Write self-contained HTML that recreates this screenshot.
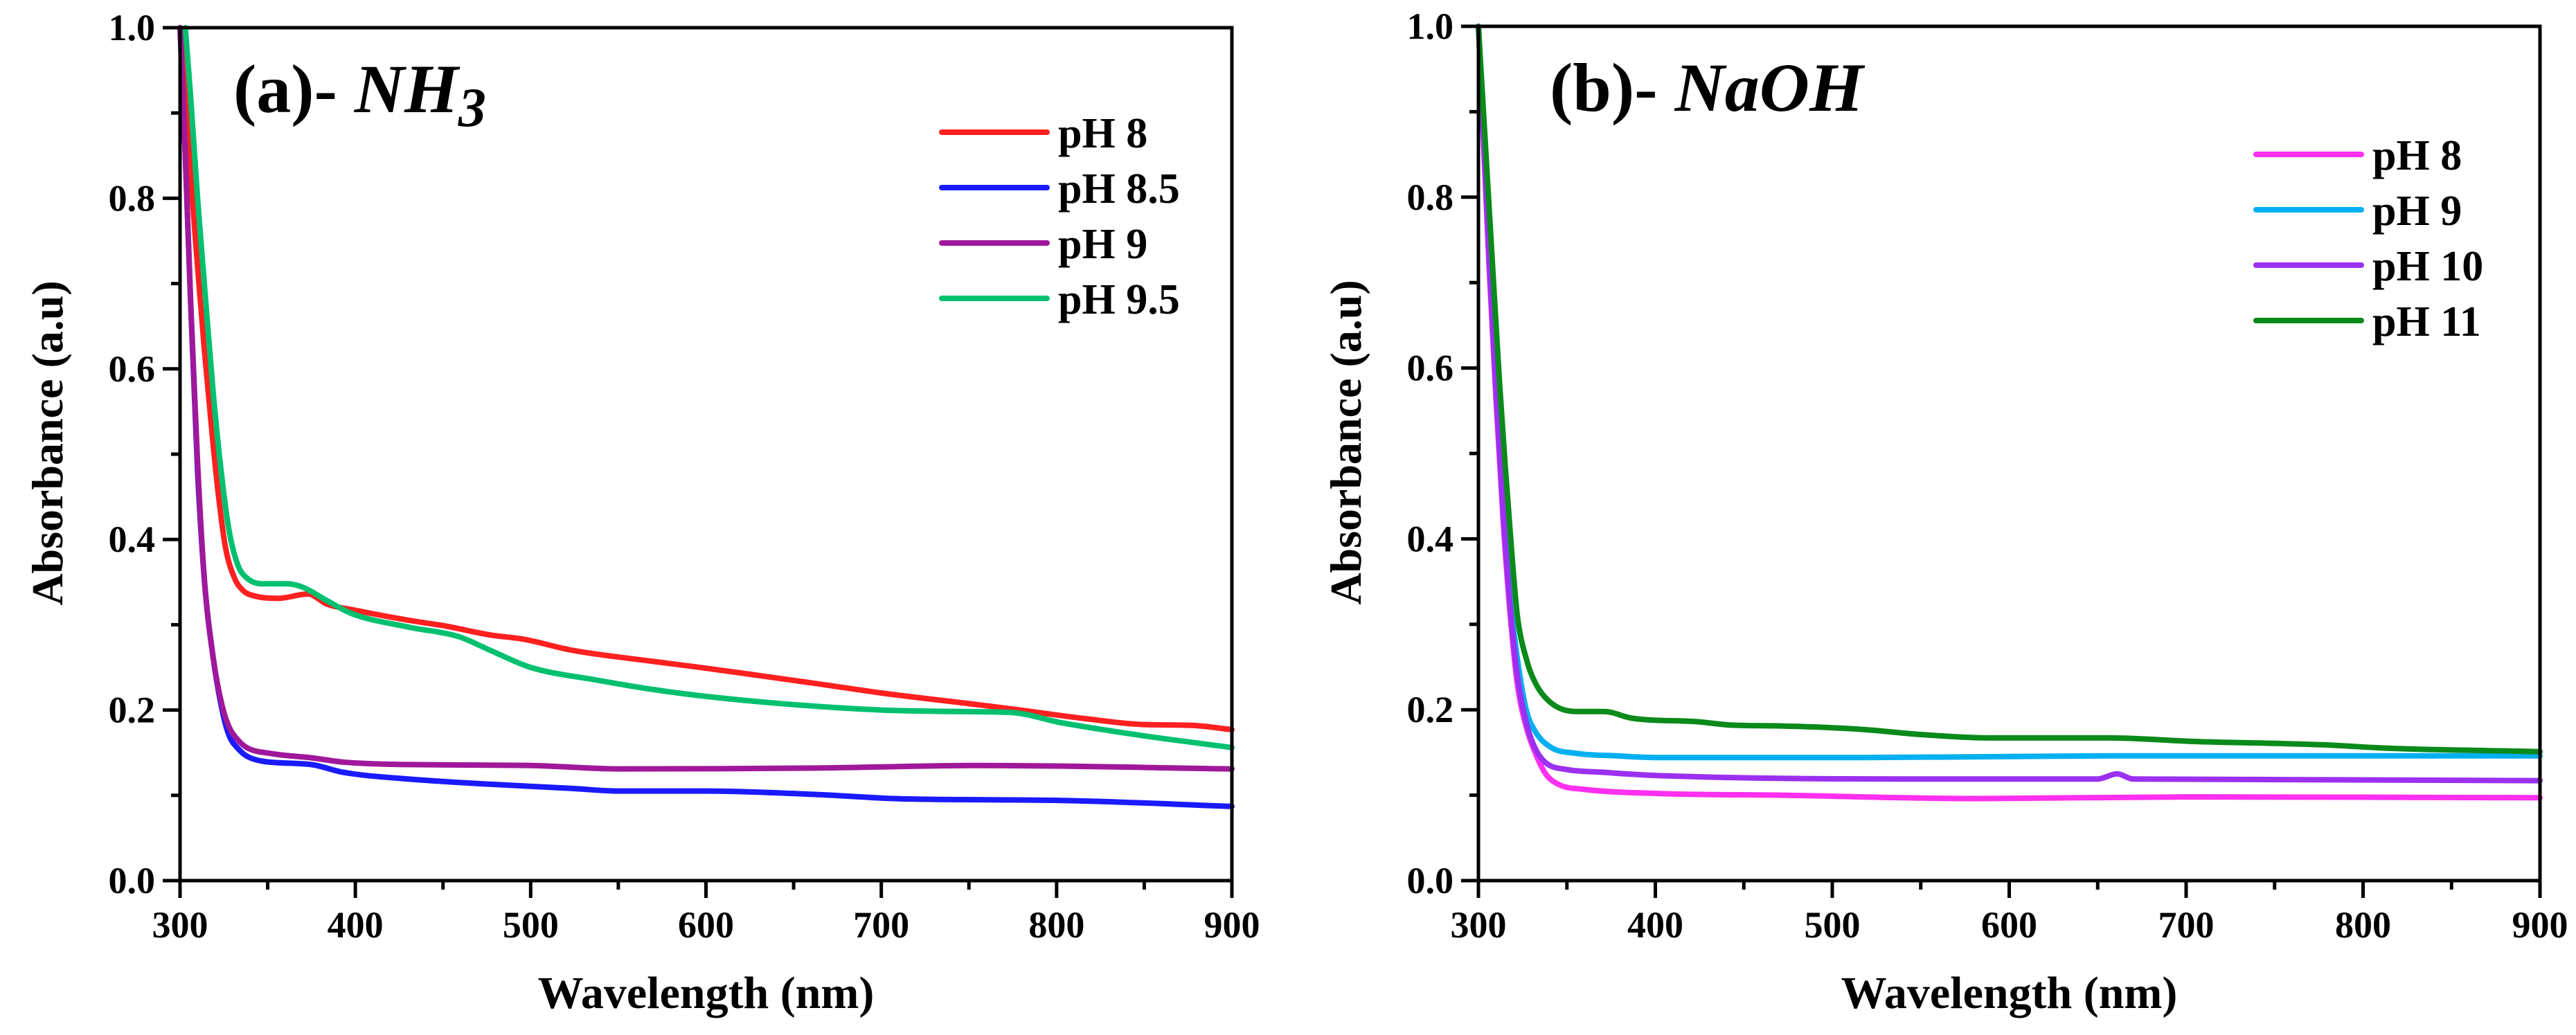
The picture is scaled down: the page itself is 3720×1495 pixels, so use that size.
<!DOCTYPE html>
<html><head><meta charset="utf-8"><style>
html,body{margin:0;padding:0;background:#fff}
svg{display:block}
text{font-family:"Liberation Serif","Times New Roman","Nimbus Roman","FreeSerif","DejaVu Serif",serif;font-weight:bold;fill:#000}
</style></head><body>
<svg id="chart" width="3720" height="1495" viewBox="0 0 3720 1495" xmlns="http://www.w3.org/2000/svg"></svg>
<script>
// ---- Panel (a) data: NH3 ----
const aWl8 = [300,303,307,310,314,318,322,326,331,336,342,356,373,384,400,431,450,477,496,524,570,600,663,700,756,779,816,849,877,900];
const aAbs8 = [1.0,0.92,0.8,0.72,0.62,0.53,0.45,0.39,0.355,0.34,0.334,0.331,0.336,0.324,0.317,0.305,0.299,0.288,0.283,0.27,0.257,0.249,0.231,0.22,0.206,0.2,0.19,0.183,0.182,0.177];
const aWl85 = [300,303,306,310,314,319,324,328,333,338,347,375,393,431,477,524,550,600,663,710,803,900];
const aAbs85 = [1.0,0.85,0.68,0.48,0.35,0.26,0.2,0.17,0.155,0.146,0.14,0.136,0.127,0.119,0.113,0.108,0.105,0.105,0.101,0.096,0.094,0.087];
const aWl9 = [300,303,306,310,314,319,324,328,333,338,352,375,393,431,500,550,663,756,900];
const aAbs9 = [1.0,0.85,0.68,0.49,0.35,0.26,0.205,0.18,0.165,0.156,0.149,0.144,0.139,0.136,0.135,0.131,0.132,0.135,0.131];
const aWl95 = [303,306,310,315,319,324,328,333,338,347,361,370,384,398,431,459,477,500,538,570,600,640,700,756,775,803,849,900];
const aAbs95 = [1.0,0.92,0.8,0.67,0.57,0.47,0.41,0.37,0.355,0.348,0.348,0.344,0.328,0.313,0.297,0.286,0.27,0.25,0.235,0.224,0.216,0.208,0.2,0.198,0.197,0.185,0.17,0.156];
// ---- Panel (b) data: NaOH ----
const bWl8 = [300,303,306,310,314,318,322,327,332,338,346,359,401,471,582,700,900];
const bAbs8 = [1.0,0.86,0.72,0.56,0.42,0.31,0.23,0.18,0.15,0.125,0.112,0.107,0.102,0.1,0.096,0.098,0.097];
const bWl9 = [300,303,306,310,314,318,322,327,332,341,355,378,401,517,657,900];
const bAbs9 = [1.0,0.87,0.74,0.58,0.44,0.33,0.26,0.2,0.175,0.156,0.149,0.146,0.144,0.144,0.146,0.146];
const bWl10 = [300,303,306,310,314,318,322,327,332,338,350,369,401,564,650,661,670,900];
const bAbs10 = [1.0,0.86,0.73,0.57,0.43,0.32,0.24,0.185,0.155,0.138,0.13,0.127,0.123,0.119,0.119,0.125,0.119,0.117];
const bWl11 = [300,304,308,312,315,319,322,327,332,341,355,371,387,424,443,471,517,550,592,657,703,777,814,900];
const bAbs11 = [1.0,0.86,0.72,0.58,0.49,0.38,0.31,0.26,0.232,0.208,0.198,0.198,0.19,0.186,0.182,0.181,0.177,0.171,0.167,0.167,0.163,0.159,0.155,0.151];
const xTicks = [300,400,500,600,700,800,900];
const yTicks = [0.0,0.2,0.4,0.6,0.8,1.0];
const legendA = ["pH 8","pH 8.5","pH 9","pH 9.5"];
const legendB = ["pH 8","pH 9","pH 10","pH 11"];

const NS="http://www.w3.org/2000/svg";
const FONT="'Liberation Serif','Times New Roman','Nimbus Roman','FreeSerif','DejaVu Serif',serif";
const svg=document.getElementById('chart');
function el(tag,attrs,parent){const e=document.createElementNS(NS,tag);for(const k in attrs)e.setAttribute(k,attrs[k]);(parent||svg).appendChild(e);return e;}

function smoothPath(px,py){
  const n=px.length;const d=[],m=new Array(n);
  for(let i=0;i<n-1;i++)d.push((py[i+1]-py[i])/(px[i+1]-px[i]));
  m[0]=d[0];m[n-1]=d[n-2];
  for(let i=1;i<n-1;i++){m[i]=(d[i-1]*d[i]<=0)?0:(d[i-1]+d[i])/2;}
  for(let i=0;i<n-1;i++){
    if(d[i]===0){m[i]=0;m[i+1]=0;continue;}
    const a=m[i]/d[i],b=m[i+1]/d[i],s=a*a+b*b;
    if(s>9){const t=3/Math.sqrt(s);m[i]=t*a*d[i];m[i+1]=t*b*d[i];}
  }
  let p='M'+px[0].toFixed(1)+' '+py[0].toFixed(1);
  for(let i=0;i<n-1;i++){
    const h=(px[i+1]-px[i])/3;
    p+='C'+(px[i]+h).toFixed(1)+' '+(py[i]+m[i]*h).toFixed(1)+' '+(px[i+1]-h).toFixed(1)+' '+(py[i+1]-m[i+1]*h).toFixed(1)+' '+px[i+1].toFixed(1)+' '+py[i+1].toFixed(1);
  }
  return p;
}

function panel(cfg){
  const L=cfg.left,R=cfg.right,T=cfg.top,B=cfg.bottom;
  const xs=w=>L+(w-300)*(R-L)/600;
  const ys=a=>B-a*(B-T);
  const g=el('g',{});
  
  
  cfg.series.forEach((s,i)=>{
    const d=smoothPath(s.wl.map(xs),s.ab.map(ys));
    const p=el('path',{d:d,fill:'none',stroke:s.color,'stroke-width':8,'stroke-linejoin':'round','stroke-linecap':'round'},g);
    
    
  });
  const fr=el('rect',{x:L,y:T,width:R-L,height:B-T,fill:'none',stroke:'#000','stroke-width':5},g);
  
  
  for(let w=300;w<=900;w+=50){
    const major=(w%100===0);
    el('line',{x1:xs(w),x2:xs(w),y1:B,y2:B+(major?25:13),stroke:'#000','stroke-width':5},g);
  }
  xTicks.forEach(w=>{
    const t=el('text',{x:xs(w),y:1354,'text-anchor':'middle','font-size':54,'font-family':FONT,'font-weight':'bold'},g);
    t.textContent=w;
    
    
  });
  for(let k=0;k<=10;k++){
    const a=k/10;const major=(k%2===0);
    el('line',{x1:L,x2:L-(major?25:13),y1:ys(a),y2:ys(a),stroke:'#000','stroke-width':5},g);
  }
  yTicks.forEach(a=>{
    const t=el('text',{x:L-36,y:ys(a)+18,'text-anchor':'end','font-size':54,'font-family':FONT,'font-weight':'bold'},g);
    t.textContent=a.toFixed(1);
    
    
  });
  const xt=el('text',{x:(L+R)/2,y:1456,'text-anchor':'middle','font-size':66,'font-family':FONT,'font-weight':'bold'},g);
  xt.textContent='Wavelength (nm)';
  
  
  const yt=el('text',{x:0,y:0,'text-anchor':'middle','font-size':64,'font-family':FONT,'font-weight':'bold',transform:'translate('+(L-170)+','+((T+B)/2-16)+') rotate(-90)'},g);
  yt.textContent='Absorbance (a.u)';
  
  
  const pl=el('text',{x:cfg.labelX,y:cfg.labelY,'font-size':100,'font-family':FONT,'font-weight':'bold'},g);
  
  
  const t1=el('tspan',{},pl);t1.textContent=cfg.labelPrefix;
  const t2=el('tspan',{'font-style':'italic'},pl);t2.textContent=cfg.labelMain;
  if(cfg.labelSub){const t3=el('tspan',{'font-size':80,dy:20,'font-style':'italic'},pl);t3.textContent=cfg.labelSub;}
  cfg.series.forEach((s,i)=>{
    const y=cfg.legY+i*cfg.legStep;
    const ln=el('line',{x1:cfg.legX1,x2:cfg.legX2,y1:y,y2:y,stroke:s.color,'stroke-width':8,'stroke-linecap':'round'},g);
    
    
    const tx=el('text',{x:cfg.legX2+16,y:y+22,'font-size':62,'font-family':FONT,'font-weight':'bold'},g);
    tx.textContent=cfg.legend[i];
    
    
  });
}

panel({id:'a',left:260,right:1779,top:40,bottom:1272,labelX:337,labelY:162,labelPrefix:'(a)- ',labelMain:'NH',labelSub:'3',
  legX1:1360,legX2:1512,legY:191,legStep:80,legend:legendA,
  series:[{name:'pH 8',wl:aWl8,ab:aAbs8,color:'#ff2020'},{name:'pH 8.5',wl:aWl85,ab:aAbs85,color:'#1a1aff'},
          {name:'pH 9',wl:aWl9,ab:aAbs9,color:'#a0189a'},{name:'pH 9.5',wl:aWl95,ab:aAbs95,color:'#00c070'}]});
panel({id:'b',left:2135,right:3668,top:38,bottom:1272,labelX:2238,labelY:160,labelPrefix:'(b)- ',labelMain:'NaOH',labelSub:'',
  legX1:3258,legX2:3410,legY:223,legStep:80,legend:legendB,
  series:[{name:'pH 8',wl:bWl8,ab:bAbs8,color:'#ff30f0'},{name:'pH 9',wl:bWl9,ab:bAbs9,color:'#00b0f0'},
          {name:'pH 10',wl:bWl10,ab:bAbs10,color:'#9b30f0'},{name:'pH 11',wl:bWl11,ab:bAbs11,color:'#0a8a1a'}]});
</script>
</body></html>
